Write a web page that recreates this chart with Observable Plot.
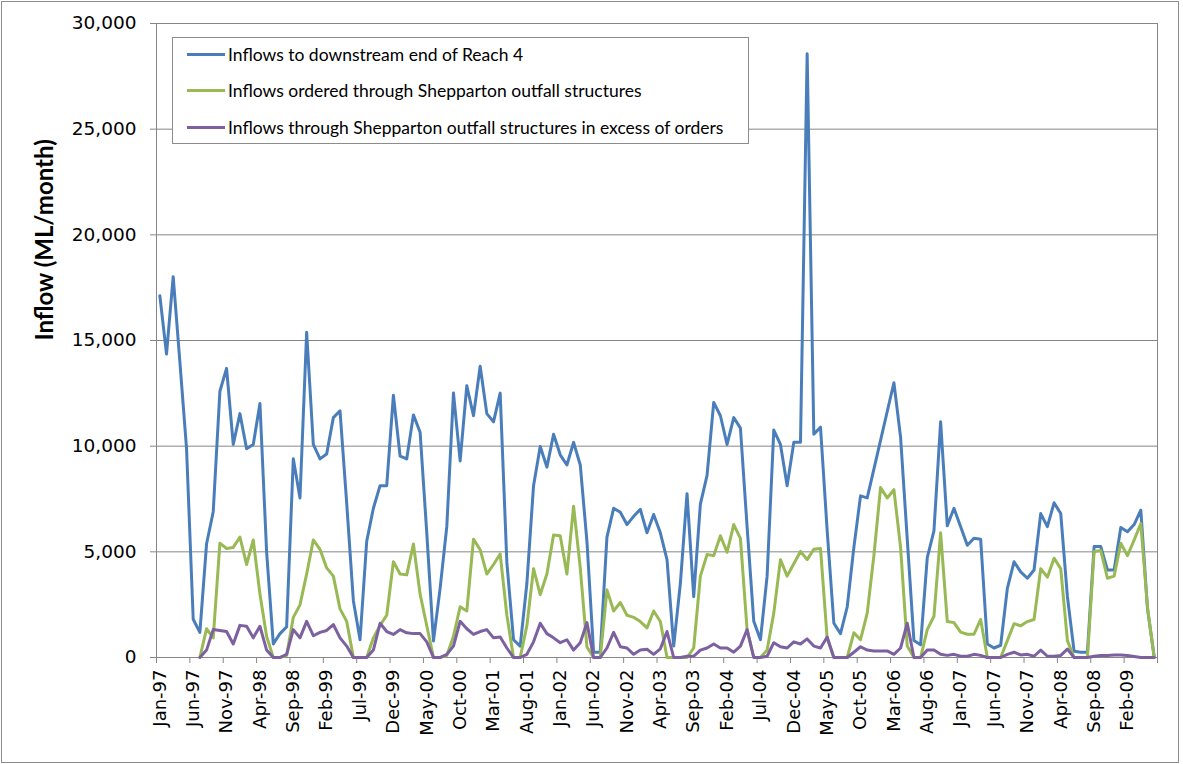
<!DOCTYPE html>
<html><head><meta charset="utf-8">
<script src="https://cdn.jsdelivr.net/npm/d3@7"></script>
<script src="https://cdn.jsdelivr.net/npm/@observablehq/plot@0.6"></script>
<style>
html,body{margin:0;padding:0;background:#fff;}
#wrap{position:relative;width:1183px;height:764px;overflow:hidden;background:#fff;}
#border{position:absolute;left:1px;top:1px;width:1176px;height:760px;border:1px solid #8c8c8c;pointer-events:none;}
#legend{position:absolute;left:172px;top:37px;width:575px;height:105px;border:1px solid #8c8c8c;background:#fff;font-family:Lato,"Liberation Sans",sans-serif;font-size:17.5px;color:#000;}
#legend .row{position:absolute;left:14px;height:20px;display:flex;align-items:center;white-space:nowrap;}
#legend .sw{width:38px;height:3px;margin-right:3px;}
</style>
</head><body>
<div id="wrap"><div id="chart"></div>
<div id="legend"></div>
<div id="border"></div></div>
<script>
const reach4Inflow = [17120,14360,18020,14000,9900,1810,1190,5370,6900,12600,
13680,10080,11540,9880,10080,12020,5000,640,1130,1450,
9400,7550,15390,10080,9400,9630,11350,11670,7300,2690,
840,5500,7060,8130,8130,12410,9530,9400,11480,10660,
5900,780,3270,6190,12510,9300,12860,11440,13780,11540,
11150,12510,4500,840,540,3500,8130,9980,9010,10560,
9590,9110,10180,9110,5500,250,250,5700,7060,6870,
6290,6680,7010,5900,6770,5900,4630,540,3500,7750,
2880,7260,8620,12070,11440,10080,11350,10860,6190,1710,
840,3850,10760,10080,8130,10180,10180,28570,10560,10900,
6000,1620,1130,2390,5210,7650,7550,8910,10270,11640,
13000,10430,5600,800,600,4730,5990,11150,6230,7060,
6190,5310,5640,5600,640,450,580,3270,4530,4050,
3750,4140,6810,6190,7320,6810,2880,300,250,250,
5250,5250,4140,4140,6150,5950,6290,6970,2300,50];

const orderedInflow = [null,null,null,null,null,null,0,1360,930,5410,
5160,5210,5700,4400,5560,3000,1000,0,0,100,
1900,2490,3950,5560,5120,4240,3850,2300,1710,0,
0,0,930,1520,2000,4530,3950,3910,5370,3000,
1500,0,0,100,1000,2400,2200,5600,5100,3950,
4400,4900,2000,0,0,1500,4200,2980,3950,5800,
5760,3950,7160,4240,500,0,0,3200,2200,2600,
2000,1900,1700,1400,2200,1700,0,0,0,0,
450,3850,4870,4820,5760,4980,6290,5640,1320,0,
0,350,2100,4630,3850,4440,5020,4630,5120,5160,
900,0,0,0,1170,840,2100,4820,8040,7550,
7940,5210,540,0,0,1320,1950,5900,1700,1650,
1200,1100,1100,1800,0,0,0,800,1600,1500,
1700,1800,4200,3800,4700,4200,800,0,0,0,
5020,5060,3750,3850,5410,4820,5560,6340,2390,0];

const excessInflow = [null,null,null,null,null,null,0,350,1320,1280,
1230,640,1520,1480,930,1480,350,0,0,150,
1320,930,1710,1030,1190,1280,1560,930,540,0,
0,0,350,1620,1230,1090,1320,1170,1130,1130,
740,0,0,150,540,1710,1360,1090,1230,1320,
930,970,450,0,0,150,740,1620,1130,930,
700,840,350,700,1650,0,0,450,1190,510,
450,150,350,390,150,410,1230,0,0,60,
60,350,450,640,450,450,250,540,1320,0,
0,60,700,510,450,740,640,880,540,450,
970,0,0,0,250,510,350,310,310,310,
150,450,1620,0,0,350,350,150,100,150,
60,60,150,100,0,0,0,150,250,120,
150,60,350,60,60,100,400,0,0,0,
60,100,100,120,120,100,50,0,0,0];

const tickLabels = ["Jan-97","Jun-97","Nov-97","Apr-98","Sep-98","Feb-99","Jul-99","Dec-99","May-00","Oct-00",
"Mar-01","Aug-01","Jan-02","Jun-02","Nov-02","Apr-03","Sep-03","Feb-04","Jul-04","Dec-04",
"May-05","Oct-05","Mar-06","Aug-06","Jan-07","Jun-07","Nov-07","Apr-08","Sep-08","Feb-09"];

const yTicks = [0,5000,10000,15000,20000,25000,30000];

const seriesNames = ["Inflows to downstream end of Reach 4",
"Inflows ordered through Shepparton outfall structures",
"Inflows through Shepparton outfall structures in excess of orders"];
const seriesColors = ["#4A7EBB","#98B954","#7D60A0"];

const nMonths = reach4Inflow.length;
const months = d3.range(nMonths);
const rows = s => months.map(i => ({i, v: s[i]}));
const step = 5;
const boundaries = d3.range(0, nMonths + 1, step);
const centers = tickLabels.map((_, k) => k * step + 0.5);
const grey = "#868686";

const chart = Plot.plot({
  width: 1183, height: 764,
  marginLeft: 156, marginRight: 26, marginTop: 23, marginBottom: 107,
  x: {domain: [0, nMonths]},
  y: {domain: [0, 30000]},
  style: {fontFamily: "'DejaVu Sans', Verdana, sans-serif", fontSize: "18px", color: "#000", background: "transparent"},
  marks: [
    Plot.gridY(yTicks, {stroke: grey, strokeOpacity: 1, strokeWidth: 1}),
    Plot.frame({stroke: grey, strokeWidth: 1}),
    Plot.axisY(yTicks, {tickFormat: d3.format(","), tickSize: 6, tickPadding: 14, stroke: grey, label: null, fontSize: 18.5}),
    Plot.axisX(boundaries, {tickFormat: () => "", tickSize: 6, stroke: grey, label: null}),
    Plot.axisX(centers, {tickFormat: d => tickLabels[Math.round((d - 0.5) / step)], tickSize: 0, tickPadding: 12, tickRotate: -90, label: null}),
    Plot.lineY(rows(reach4Inflow), {x: d => d.i + 0.5, y: "v", stroke: seriesColors[0], strokeWidth: 3, strokeLinejoin: "round"}),
    Plot.lineY(rows(orderedInflow), {x: d => d.i + 0.5, y: "v", stroke: seriesColors[1], strokeWidth: 3, strokeLinejoin: "round"}),
    Plot.lineY(rows(excessInflow), {x: d => d.i + 0.5, y: "v", stroke: seriesColors[2], strokeWidth: 3, strokeLinejoin: "round"}),
    Plot.text(["Inflow (ML/month)"], {frameAnchor: "left", rotate: -90, dx: -111, fontSize: 24, fontWeight: "bold", fontFamily: "Lato, sans-serif"})
  ]
});
document.getElementById("chart").appendChild(chart);

const legend = document.getElementById("legend");
const rowTops = [6, 42, 79];
seriesNames.forEach((name, k) => {
  const r = document.createElement("div");
  r.className = "row";
  r.style.top = rowTops[k] + "px";
  const sw = document.createElement("span");
  sw.className = "sw";
  sw.style.background = seriesColors[k];
  const t = document.createElement("span");
  t.textContent = name;
  r.appendChild(sw); r.appendChild(t);
  legend.appendChild(r);
});
</script>
</body></html>
